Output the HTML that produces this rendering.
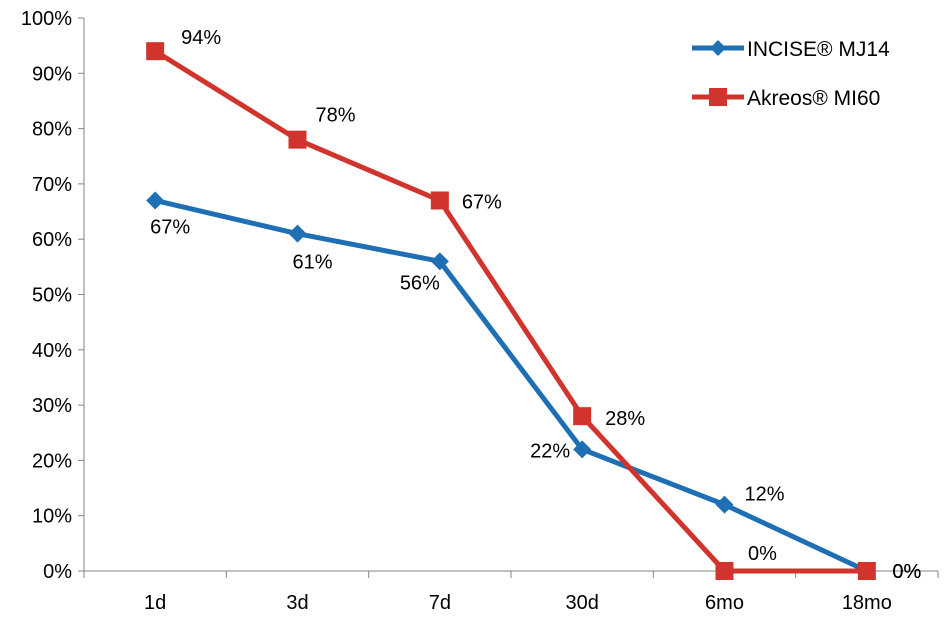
<!DOCTYPE html>
<html><head><meta charset="utf-8"><style>
body{margin:0;background:#fff;}
svg{display:block;font-family:"Liberation Sans",Arial,sans-serif;}
</style></head><body>
<svg id="chart" width="945" height="629"></svg>
<script>
const categories=["1d","3d","7d","30d","6mo","18mo"];
const inciseValues=[67,61,56,22,12,0];
const akreosValues=[94,78,67,28,0,0];
const yTicks=[0,10,20,30,40,50,60,70,80,90,100];
const NS="http://www.w3.org/2000/svg";
const svg=document.getElementById("chart");
const x0=84,x1=938,y0=571,y100=18;
const band=(x1-x0)/categories.length;
const X=i=>x0+band*(i+0.5);
const Y=v=>y0-(v/100)*(y0-y100);
function mk(tag,attrs,parent){const e=document.createElementNS(NS,tag);for(const k in attrs)e.setAttribute(k,attrs[k]);(parent||svg).appendChild(e);return e;}
// axes
const yAxis=mk("line",{x1:x0,y1:y100,x2:x0,y2:y0,stroke:"#868686","stroke-width":1});


const xAxis=mk("line",{x1:x0,y1:y0,x2:x1,y2:y0,stroke:"#868686","stroke-width":1});


yTicks.forEach(t=>{
  mk("line",{x1:x0-6,y1:Y(t),x2:x0,y2:Y(t),stroke:"#868686"});
  const tx=mk("text",{x:x0-12,y:Y(t)+7,"text-anchor":"end","font-size":20,fill:"#000"});
  tx.textContent=t+"%";
  
  
});
for(let i=0;i<=categories.length;i++){mk("line",{x1:x0+band*i,y1:y0,x2:x0+band*i,y2:y0+7,stroke:"#868686"});}
categories.forEach((c,i)=>{
  const tx=mk("text",{x:X(i),y:y0+38,"text-anchor":"middle","font-size":20,fill:"#000"});
  tx.textContent=c;
  
  
});
function series(vals,color,name,marker,labelOff){
  const g=mk("g",{});
  
  
  mk("polyline",{points:vals.map((v,i)=>X(i)+","+Y(v)).join(" "),fill:"none",stroke:color,"stroke-width":5,"stroke-linejoin":"round"},g);
  vals.forEach((v,i)=>{
    let m;
    if(marker==="diamond"){m=mk("polygon",{points:`${X(i)},${Y(v)-9} ${X(i)+9},${Y(v)} ${X(i)},${Y(v)+9} ${X(i)-9},${Y(v)}`,fill:color},g);}
    else{m=mk("rect",{x:X(i)-9,y:Y(v)-9,width:18,height:18,fill:color},g);}
    
    
    const o=labelOff[i];
    const t=mk("text",{x:X(i)+o[0],y:Y(v)+o[1],"text-anchor":"middle","font-size":20,fill:"#000"},g);
    t.textContent=v+"%";
    
    
  });
}
series(inciseValues,"#1f6fb5","incise",
  "diamond",[[15,33],[15,35],[-20,28],[-32,8],[40,-4],[40,7]]);
series(akreosValues,"#d0342c","akreos",
  "square",[[46,-7],[38,-18],[42,8],[43,9],[38,-11],[40,7]]);
// legend
[["INCISE® MJ14","#1f6fb5","diamond",48],["Akreos® MI60","#d0342c","square",97]].forEach(l=>{
  const g=mk("g",{});
  
  
  mk("line",{x1:692,y1:l[3],x2:744,y2:l[3],stroke:l[1],"stroke-width":5},g);
  if(l[2]==="diamond")mk("polygon",{points:`718,${l[3]-8} 726,${l[3]} 718,${l[3]+8} 710,${l[3]}`,fill:l[1]},g);
  else mk("rect",{x:709,y:l[3]-9,width:18,height:18,fill:l[1]},g);
  const t=mk("text",{x:747,y:l[3]+8,"font-size":21,fill:"#000"},g);
  t.textContent=l[0];
});
</script>
</body></html>
